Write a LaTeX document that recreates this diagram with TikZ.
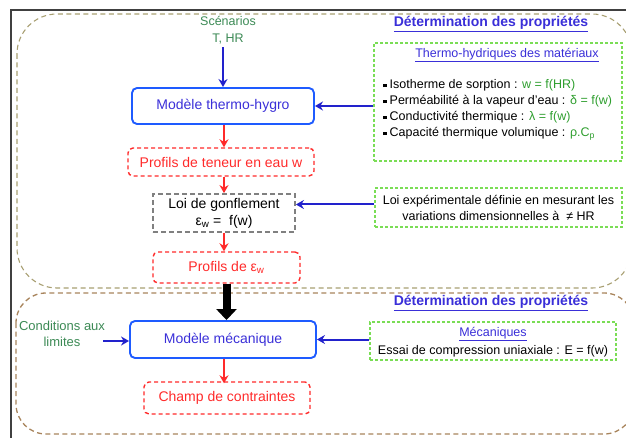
\documentclass[tikz,border=0pt]{standalone}
\usepackage{fontspec}
\setmainfont{Liberation Sans}
\usetikzlibrary{arrows.meta}
\definecolor{btext}{HTML}{3A2FD8}
\definecolor{bbord}{HTML}{1E5BFF}
\definecolor{barrow}{HTML}{2222CC}
\definecolor{rred}{HTML}{FF2A2A}
\definecolor{gdash}{HTML}{7ADD55}
\definecolor{gtext}{HTML}{3C8A55}
\definecolor{gform}{HTML}{2E9E2E}
\definecolor{olivd}{HTML}{A89F72}
\definecolor{brownd}{HTML}{A8845C}
\definecolor{framec}{HTML}{404040}
\tikzset{
  model/.style={draw=bbord, line width=1.9pt, rounded corners=5pt, text=btext, font=\fontsize{14}{16}\selectfont, inner sep=0pt},
  result/.style={draw=rred, line width=1.4pt, dash pattern=on 4pt off 3pt, rounded corners=5pt, text=rred, font=\fontsize{14}{16}\selectfont, inner sep=0pt},
  lawbox/.style={draw=gray, line width=1.8pt, dash pattern=on 5pt off 3pt, text=black, font=\fontsize{14}{17}\selectfont, align=center, inner sep=0pt},
  propbox/.style={draw=gdash, line width=1.1pt, dash pattern=on 3pt off 2pt, inner sep=0pt},
  small/.style={font=\fontsize{12.5}{16}\selectfont},
  gtxt/.style={text=gtext, font=\fontsize{13}{16.5}\selectfont, align=center},
  heading/.style={text=btext, font=\bfseries\fontsize{14}{16}\selectfont},
  barr/.style={draw=barrow, line width=2pt, -{Stealth[length=8pt,width=9pt]}},
  rarr/.style={draw=rred, line width=2pt, -{Stealth[length=8pt,width=9pt]}},
}
\newcommand{\bul}{\raisebox{1.5pt}{\rule{3.5pt}{3.5pt}}\hspace{3pt}}
\begin{document}
\begin{tikzpicture}[x=1pt,y=-1pt]
\useasboundingbox (0,0) rectangle (626,438);
\clip (0,0) rectangle (626,438);
% outer frame
\draw[framec, line width=1.8pt] (11,440) -- (11,10) -- (630,10);
% regions
\draw[olivd, line width=1.1pt, dash pattern=on 5pt off 3.5pt, rounded corners=40pt] (17,14) rectangle (632,288);
\draw[brownd, line width=1.3pt, dash pattern=on 5pt off 3.5pt, rounded corners=30pt] (16,293) rectangle (634,434);

% left chain
\node[gtxt, font=\fontsize{12.5}{16.5}\selectfont] (scen) at (228,30) {Scénarios\\T, HR};
\node[model, minimum width=182pt, minimum height=36pt] (thermo) at (223,106) {Modèle thermo-hygro};
\node[result, minimum width=186pt, minimum height=28pt] (teneur) at (221,162) {Profils de teneur en eau w};
\node[lawbox, minimum width=142pt, minimum height=38pt] (loi) at (224,213) {Loi de gonflement\\ε\textsubscript{w} =\ \ f(w)};
\node[result, minimum width=147pt, minimum height=31pt] (epsw) at (226.5,267.5) {Profils de ε\textsubscript{w}};
\node[model, minimum width=186pt, minimum height=37pt] (meca) at (223,339.5) {Modèle mécanique};
\node[result, minimum width=166pt, minimum height=32pt] (champ) at (227,398) {Champ de contraintes};
\node[gtxt] (cond) at (62,334) {Conditions aux\\limites};
\coordinate (condend) at (103,341);

\draw[barr] (scen.south -| thermo.north) -- (thermo.north);
\draw[rarr] (thermo.south -| 224,0) -- (teneur.north -| 224,0);
\draw[rarr] (teneur.south -| 224,0) -- (loi.north -| 224,0);
\draw[rarr] (loi.south -| 224,0) -- (epsw.north -| 224,0);
\draw[line width=8pt, -{Triangle[length=11pt,width=20pt]}] (epsw.south -| 226.5,0) -- (meca.north -| 226.5,0);
\draw[rarr] (meca.south -| 224,0) -- ([yshift=-2pt]champ.north -| 224,0);
\draw[barr] (condend) -- (meca.west |- condend);

% right side, top
\node[heading] (h1) at (491,24) {\underline{Détermination des propriétés}};
\node[propbox, minimum width=248pt, minimum height=118pt] (thbox) at (498,102) {};
\node[small, text=btext] (thtitle) at (507,55) {\underline{Thermo-hydriques des matériaux}};
\node[small, anchor=west, align=left, inner sep=0pt] (thlist) at (383,110) {%
\bul Isotherme de sorption : \textcolor{gform}{w = f(HR)}\\
\bul Perméabilité à la vapeur d’eau : \textcolor{gform}{δ = f(w)}\\
\bul Conductivité thermique : \textcolor{gform}{λ = f(w)}\\
\bul Capacité thermique volumique : \textcolor{gform}{ρ.C\textsubscript{p}}};
\draw[barr] (thermo.east -| thbox.west) -- (thermo.east);

\node[propbox, small, minimum width=247pt, minimum height=39pt, align=center] (lexp) at (498.5,207.5) {Loi expérimentale définie en mesurant les\\variations dimensionnelles à\ \ ≠ HR};
\draw[barr] ([yshift=3pt]lexp.west) -- ([yshift=3pt]lexp.west -| loi.east);

% right side, bottom
\node[heading] (h2) at (491,303) {\underline{Détermination des propriétés}};
\node[propbox, minimum width=246pt, minimum height=38pt] (mbox) at (493,341) {};
\node[small, text=btext] (mtitle) at (493,334) {\underline{Mécaniques}};
\node[small] (mtext) at (493,351) {Essai de compression uniaxiale : E = f(w)};
\draw[barr] (meca.east -| mbox.west) -- (meca.east);
\end{tikzpicture}
\end{document}
